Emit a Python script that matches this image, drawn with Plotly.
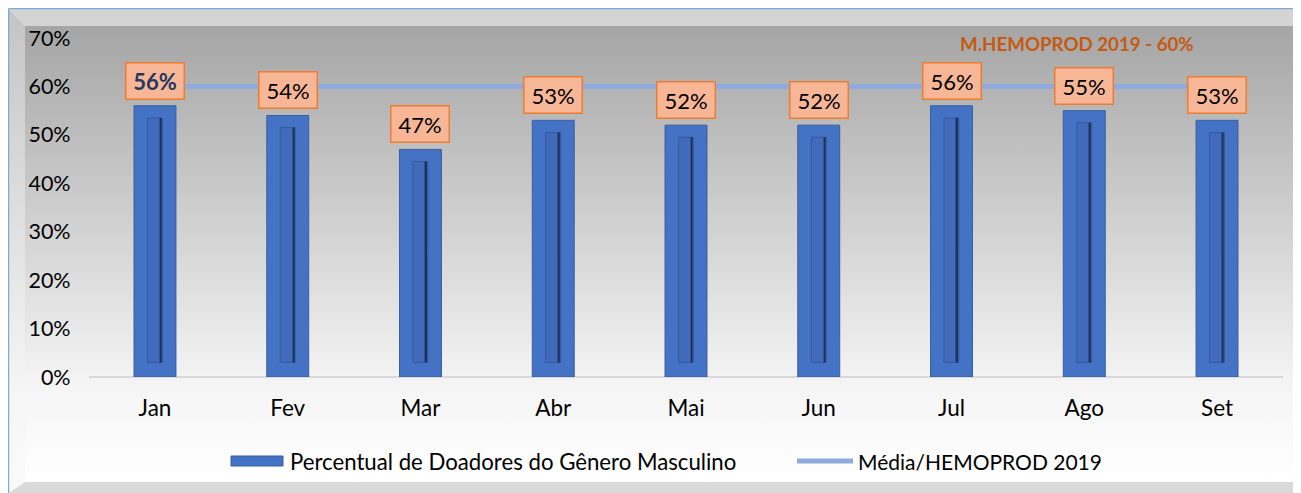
import base64
import plotly.graph_objects as go

# ---------------- data ----------------
months = ["Jan", "Fev", "Mar", "Abr", "Mai", "Jun", "Jul", "Ago", "Set"]
male_pct = [56, 54, 47, 53, 52, 52, 56, 55, 53]
media_hemoprod = [60, 60, 60, 60, 60, 60, 60, 60, 60]
y_ticks = [0, 10, 20, 30, 40, 50, 60, 70]
y_tick_labels = ["0%", "10%", "20%", "30%", "40%", "50%", "60%", "70%"]
bar_name = "Percentual de Doadores do Gênero Masculino"
line_name = "Média/HEMOPROD 2019"
note_text = "M.HEMOPROD 2019 - 60%"

# page has an 8px body margin: figure drawn at (8, 8)
OFF = 8
W, H = 1301 - OFF, 493 - OFF
FONT = "Lato"


def px(x):
    return (x - OFF) / W


def py(y):
    return 1 - (y - OFF) / H


# ---------------- background (bevelled frame), in figure pixels ----------------
def P(x, y):
    return f"{x - OFF},{y - OFF}"


svg = f'''<svg xmlns="http://www.w3.org/2000/svg" width="{W}" height="{H}" viewBox="0 0 {W} {H}" preserveAspectRatio="none">
<defs>
<linearGradient id="pan" x1="0" y1="0" x2="0" y2="1">
<stop offset="0" stop-color="#a5a5a5"/>
<stop offset="0.78" stop-color="#f4f4f4"/>
<stop offset="1" stop-color="#ffffff"/>
</linearGradient>
<linearGradient id="lb" x1="0" y1="0" x2="0" y2="1">
<stop offset="0" stop-color="#c4c4c4"/>
<stop offset="0.8" stop-color="#f6f6f6"/>
<stop offset="1" stop-color="#fafafa"/>
</linearGradient>
<linearGradient id="rb" x1="0" y1="0" x2="0" y2="1">
<stop offset="0" stop-color="#9c9c9c"/>
<stop offset="0.8" stop-color="#ececec"/>
<stop offset="1" stop-color="#f2f2f2"/>
</linearGradient>
</defs>
<rect x="0" y="0" width="{W}" height="{H}" fill="#ffffff"/>
<rect x="{25 - OFF}" y="{26 - OFF}" width="1269" height="456" fill="url(#pan)"/>
<polygon points="{P(9, 9)} {P(1301, 9)} {P(1294, 26)} {P(25, 26)}" fill="#d4d4d4"/>
<polygon points="{P(9, 9)} {P(25, 26)} {P(25, 482)} {P(9, 493)}" fill="url(#lb)"/>
<polygon points="{P(1301, 9)} {P(1301, 493)} {P(1294, 482)} {P(1294, 26)}" fill="url(#rb)"/>
<polygon points="{P(9, 493)} {P(25, 482)} {P(1294, 482)} {P(1301, 493)}" fill="#dadada"/>
<line x1="0.6" y1="0.6" x2="{W}" y2="0.6" stroke="#7fa7d8" stroke-width="1.2"/>
<line x1="0.6" y1="0.6" x2="0.6" y2="{H}" stroke="#7fa7d8" stroke-width="1.2"/>
</svg>'''
bg_src = "data:image/svg+xml;base64," + base64.b64encode(svg.encode()).decode()

# plot area geometry (reference pixels)
x_left, x_right = 88.6, 1283.4
y_zero, y_top = 377.0, 38.0

fig = go.Figure()

# main bars
fig.add_trace(go.Bar(
    x=months, y=male_pct, name=bar_name, width=0.316,
    marker=dict(color="#4472c4", line=dict(color="#3a5f9f", width=1)),
    showlegend=False, hoverinfo="skip",
))
# bevel groove inside each bar
fig.add_trace(go.Bar(
    x=months, y=[v - 5.5 for v in male_pct], base=[3] * len(months), width=0.113,
    marker=dict(color="#416bba", line=dict(color="#36599e", width=1)),
    showlegend=False, hoverinfo="skip",
))
fig.add_trace(go.Bar(
    x=months, y=[v - 5.5 for v in male_pct], base=[3] * len(months),
    width=0.011, offset=0.038,
    marker=dict(color="#1c2f55", line=dict(width=0)),
    showlegend=False, hoverinfo="skip",
))

# average line
fig.add_trace(go.Scatter(
    x=months, y=media_hemoprod, name=line_name, mode="lines",
    line=dict(color="#8faadc", width=5), showlegend=False, hoverinfo="skip",
))

# data labels
for i, (m, v) in enumerate(zip(months, male_pct)):
    first = i == 0
    fig.add_annotation(
        x=m, y=v, xref="x", yref="y", yanchor="bottom", yshift=6,
        text=f"<b>{v}%</b>" if first else f"{v}%",
        showarrow=False,
        font=dict(family=FONT, size=22, color="#1f3864" if first else "#000000"),
        bgcolor="#f7b796", bordercolor="#ed7d31", borderwidth=1.5,
        borderpad=1, width=55, height=33,
    )

# note
fig.add_annotation(
    x=px(1076.5), y=py(44), xref="paper", yref="paper",
    text=f"<b>{note_text}</b>", showarrow=False,
    font=dict(family=FONT, size=18.7, color="#c55a11"),
    xanchor="center", yanchor="middle",
)

# custom legend
leg_y = py(461)
fig.add_shape(type="rect", xref="paper", yref="paper",
              x0=px(231), x1=px(283), y0=py(466), y1=py(456),
              fillcolor="#4472c4", line=dict(color="#3a5f9f", width=1))
fig.add_annotation(x=px(288), y=leg_y, xref="paper", yref="paper",
                   text=bar_name, showarrow=False, xanchor="left", yanchor="middle",
                   font=dict(family=FONT, size=22.2, color="#000000"))
fig.add_shape(type="line", xref="paper", yref="paper",
              x0=px(797), x1=px(853), y0=leg_y, y1=leg_y,
              line=dict(color="#8faadc", width=5))
fig.add_annotation(x=px(856), y=leg_y, xref="paper", yref="paper",
                   text=line_name, showarrow=False, xanchor="left", yanchor="middle",
                   font=dict(family=FONT, size=21, color="#000000"))

fig.update_layout(
    width=W, height=H, autosize=False,
    margin=dict(l=0, r=0, t=0, b=0, pad=0),
    paper_bgcolor="#ffffff", plot_bgcolor="rgba(0,0,0,0)",
    barmode="overlay", showlegend=False,
    font=dict(family=FONT, size=21, color="#000000"),
    images=[dict(source=bg_src, xref="paper", yref="paper", x=0, y=1,
                 sizex=1, sizey=1, xanchor="left", yanchor="top",
                 sizing="stretch", layer="below")],
    xaxis=dict(
        domain=[px(x_left), px(x_right)], range=[-0.5, 8.5],
        showgrid=False, zeroline=False, showline=False, ticks="",
        tickfont=dict(family=FONT, size=22.5, color="#000000"),
        ticklabelstandoff=15, fixedrange=True, automargin=False,
    ),
    yaxis=dict(
        domain=[py(y_zero), py(y_top)], range=[0, 70],
        tickvals=y_ticks, ticktext=y_tick_labels,
        showgrid=False, zeroline=True, zerolinecolor="#d9d9d9", zerolinewidth=1.5,
        showline=False, ticks="",
        tickfont=dict(family=FONT, size=21.5, color="#000000"),
        ticklabelstandoff=17, fixedrange=True, automargin=False,
    ),
)

fig.write_html("out.html")
